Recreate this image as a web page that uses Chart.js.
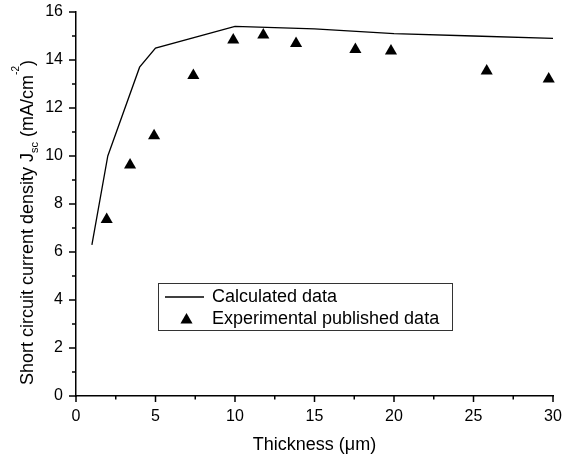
<!DOCTYPE html>
<html>
<head>
<meta charset="utf-8">
<script src="https://cdn.jsdelivr.net/npm/chart.js@4/dist/chart.umd.min.js"></script>
<style>
  html, body { margin: 0; padding: 0; background: #fff; }
  #wrap { width: 566px; height: 457px; }
</style>
</head>
<body>
<div id="wrap"><canvas id="JscChart" width="566" height="457"></canvas></div>
<script>
// thickness (um) vs short circuit current density (mA/cm^-2)
const calcThickness = [1, 2, 4, 5, 10, 15, 20, 25, 30];
const calcJsc = [6.3, 10.0, 13.7, 14.5, 15.4, 15.3, 15.1, 15.0, 14.9];

const expThickness = [1.93, 3.4, 4.91, 7.38, 9.89, 11.78, 13.84, 17.57, 19.81, 25.83, 29.73];
const expJsc = [7.35, 9.62, 10.84, 13.35, 14.83, 15.04, 14.69, 14.44, 14.37, 13.54, 13.21];

const xMajorTicks = [0, 5, 10, 15, 20, 25, 30];
const yMajorTicks = [0, 2, 4, 6, 8, 10, 12, 14, 16];

const legendLabels = ['Calculated data', 'Experimental published data'];

const FONT = 'Arial, "Liberation Sans", sans-serif';

const toPoints = (xs, ys) => xs.map((x, i) => ({ x, y: ys[i] }));

/**
 * Draws the minor/major tick marks outside the axes (Origin style)
 */
const tickMarks = {
  id: 'tickMarks',
  afterDraw(chart) {
    const { ctx, chartArea } = chart;
    const { x: xScale, y: yScale } = chart.scales;
    ctx.save();
    ctx.strokeStyle = '#000';
    ctx.lineWidth = 1.5;
    ctx.beginPath();
    for (let v = xScale.min; v <= xScale.max + 1e-9; v += 2.5) {
      const px = xScale.getPixelForValue(v);
      const len = v % 5 === 0 ? 6 : 3.5;
      ctx.moveTo(px, chartArea.bottom);
      ctx.lineTo(px, chartArea.bottom + len);
    }
    for (let v = yScale.min; v <= yScale.max + 1e-9; v += 1) {
      const py = yScale.getPixelForValue(v);
      const len = v % 2 === 0 ? 7 : 4;
      ctx.moveTo(chartArea.left, py);
      ctx.lineTo(chartArea.left - len, py);
    }
    ctx.stroke();
    ctx.restore();
  },
};

/**
 * Y axis title with subscript and superscript
 */
const yTitle = {
  id: 'yTitle',
  afterDraw(chart) {
    const { ctx, chartArea } = chart;
    const parts = [
      { text: 'Short circuit current density J', size: 18, dy: 0 },
      { text: 'sc', size: 11, dy: 5 },
      { text: ' (mA/cm', size: 18, dy: 0 },
      { text: '-2', size: 10, dy: -14 },
      { text: ')', size: 18, dy: 0 },
    ];
    ctx.save();
    ctx.fillStyle = '#000';
    ctx.textBaseline = 'alphabetic';
    ctx.textAlign = 'left';
    ctx.translate(33, chartArea.bottom - 11);
    ctx.rotate(-Math.PI / 2);
    let x = 0;
    parts.forEach(({ text, size, dy }) => {
      ctx.font = `${size}px ${FONT}`;
      ctx.fillText(text, x, dy);
      x += ctx.measureText(text).width;
    });
    ctx.restore();
  },
};

/**
 * Legend box inside the plot area
 */
const boxLegend = {
  id: 'boxLegend',
  afterDraw(chart) {
    const { ctx } = chart;
    const [lineSet, pointSet] = chart.data.datasets;
    const box = { x: 158.5, y: 283.5, w: 294, h: 47 };
    ctx.save();
    ctx.fillStyle = '#fff';
    ctx.fillRect(box.x, box.y, box.w, box.h);
    ctx.strokeStyle = '#333';
    ctx.lineWidth = 1;
    ctx.strokeRect(box.x, box.y, box.w, box.h);

    ctx.strokeStyle = lineSet.borderColor;
    ctx.lineWidth = lineSet.borderWidth;
    ctx.beginPath();
    ctx.moveTo(165, 297);
    ctx.lineTo(204, 297);
    ctx.stroke();

    Chart.helpers.drawPoint(
      ctx,
      { pointStyle: 'triangle', radius: pointSet.pointRadius, borderWidth: 0 },
      186.5,
      320
    );
    ctx.fillStyle = pointSet.backgroundColor;
    ctx.fill();

    ctx.fillStyle = '#000';
    ctx.font = `18px ${FONT}`;
    ctx.textBaseline = 'middle';
    ctx.textAlign = 'left';
    ctx.fillText(legendLabels[0], 212, 297);
    ctx.fillText(legendLabels[1], 212, 319);
    ctx.restore();
  },
};

const ctx = document.getElementById('JscChart').getContext('2d');

window.JscChartRef = new Chart(ctx, {
  type: 'scatter',
  data: {
    datasets: [
      {
        label: legendLabels[0],
        data: toPoints(calcThickness, calcJsc),
        showLine: true,
        borderColor: '#000',
        backgroundColor: '#000',
        borderWidth: 1.3,
        pointRadius: 0,
        tension: 0,
      },
      {
        label: legendLabels[1],
        data: toPoints(expThickness, expJsc),
        showLine: false,
        pointStyle: 'triangle',
        pointRadius: 7,
        borderWidth: 0,
        backgroundColor: '#000',
        borderColor: '#000',
        clip: false,
      },
    ],
  },
  options: {
    responsive: false,
    animation: false,
    layout: { padding: { top: 12, right: 13, left: 0, bottom: 0 } },
    plugins: {
      legend: { display: false },
      tooltip: { enabled: false },
    },
    scales: {
      x: {
        type: 'linear',
        min: 0,
        max: 30,
        afterFit(scale) {
          scale.height = 61;
          scale.paddingLeft = 0;
          scale.paddingRight = 0;
        },
        afterBuildTicks(scale) {
          scale.ticks = xMajorTicks.map(value => ({ value }));
        },
        grid: { display: false, drawTicks: false },
        border: { display: true, color: '#000', width: 1.5 },
        ticks: {
          color: '#000',
          padding: 11,
          maxRotation: 0,
          font: { family: FONT, size: 16 },
        },
        title: {
          display: true,
          text: 'Thickness (\u03bcm)',
          color: '#000',
          padding: { top: 0, bottom: 1 },
          font: { family: FONT, size: 18 },
        },
      },
      y: {
        type: 'linear',
        min: 0,
        max: 16,
        afterFit(scale) {
          scale.width = 76;
          scale.paddingTop = 0;
          scale.paddingBottom = 0;
        },
        afterBuildTicks(scale) {
          scale.ticks = yMajorTicks.map(value => ({ value }));
        },
        grid: { display: false, drawTicks: false },
        border: { display: true, color: '#000', width: 1.5 },
        ticks: {
          color: '#000',
          padding: 13,
          font: { family: FONT, size: 16 },
        },
      },
    },
  },
  plugins: [tickMarks, yTitle, boxLegend],
});
</script>
</body>
</html>
